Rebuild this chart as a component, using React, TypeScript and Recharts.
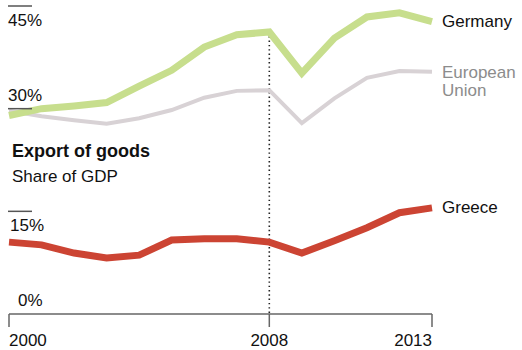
import React from 'react';
import { LineChart, Line, XAxis, YAxis, ReferenceLine } from 'recharts';

const years = [2000, 2001, 2002, 2003, 2004, 2005, 2006, 2007, 2008, 2009, 2010, 2011, 2012, 2013];
const germany = [29.0, 30.0, 30.4, 30.9, 33.3, 35.6, 39.0, 40.8, 41.2, 35.2, 40.3, 43.4, 44.0, 42.7];
const eu = [29.7, 28.9, 28.3, 27.8, 28.6, 29.8, 31.6, 32.6, 32.7, 27.9, 31.5, 34.5, 35.5, 35.4];
const greece = [10.5, 10.1, 8.9, 8.2, 8.6, 10.8, 11.0, 11.0, 10.5, 8.9, 10.7, 12.6, 14.8, 15.5];

const yTicks = [0, 15, 30, 45];
const yTickLabels = ['0%', '15%', '30%', '45%'];
const xTicks = [2000, 2008, 2013];
const markerYear = 2008;

const data = years.map((y, i) => ({ year: y, germany: germany[i], eu: eu[i], greece: greece[i] }));

const FONT = '"Liberation Sans", Arial, Helvetica, sans-serif';

const YTick = (props: any) => {
  const { y, payload } = props;
  const v = payload.value;
  const idx = yTicks.indexOf(v);
  const label = yTickLabels[idx];
  const above = v === 0 || v === 30;
  const textX = v === 0 ? 18 : v === 15 ? 10 : 8;
  return (
    <g>
      {v !== 0 && <line x1={8} x2={32} y1={y} y2={y} stroke="#555" strokeWidth={1.5} />}
      <text x={textX} y={above ? y - 8 : y + 20} fontSize={17} fill="#111" fontFamily={FONT} textAnchor="start">
        {label}
      </text>
    </g>
  );
};

const XTick = (props: any) => {
  const { x, payload, index } = props;
  const axisY = 314;
  const anchor = index === 0 ? 'start' : index === xTicks.length - 1 ? 'end' : 'middle';
  return (
    <g>
      <line x1={x} x2={x} y1={axisY} y2={axisY + 13} stroke="#666" strokeWidth={1.5} />
      <text x={x} y={346} fontSize={17} fill="#111" fontFamily={FONT} textAnchor={anchor}>
        {payload.value}
      </text>
    </g>
  );
};

const endLabel = (lines: string[], color: string, dyFirst: number) => (props: any) => {
  const { x, y, index } = props;
  if (index !== years.length - 1) return null;
  return (
    <text x={x + 10} y={y + dyFirst} fontSize={17} fill={color} fontFamily={FONT}>
      {lines.map((l, i) => (
        <tspan key={i} x={x + 10} dy={i === 0 ? 0 : 18}>
          {l}
        </tspan>
      ))}
    </text>
  );
};

export default function App() {
  const germanyAt = germany[years.indexOf(markerYear)];
  return (
    <div style={{ position: 'absolute', left: 0, top: 0, width: 522, height: 350, background: '#fff' }}>
      <LineChart width={522} height={350} data={data} margin={{ top: 6, right: 90, bottom: 0, left: 0 }}>
        <XAxis
          dataKey="year"
          type="number"
          domain={[2000, 2013]}
          ticks={xTicks}
          axisLine={{ stroke: '#666', strokeWidth: 1.5 }}
          tickLine={false}
          tick={<XTick />}
          height={36}
          interval={0}
        />
        <YAxis
          type="number"
          domain={[0, 45]}
          ticks={yTicks}
          width={9}
          axisLine={false}
          tickLine={false}
          tick={<YTick />}
          interval={0}
        />
        <ReferenceLine
          segment={[{ x: markerYear, y: germanyAt }, { x: markerYear, y: 0 }]}
          stroke="#222"
          strokeWidth={1.6}
          strokeDasharray="1.4 2.9"
        />
        <Line
          dataKey="eu"
          stroke="#d8d2d5"
          strokeWidth={4}
          dot={false}
          isAnimationActive={false}
          label={endLabel(['European', 'Union'], '#8c8c8c', 6)}
        />
        <Line
          dataKey="germany"
          stroke="#c7de8d"
          strokeWidth={7}
          dot={false}
          isAnimationActive={false}
          label={endLabel(['Germany'], '#111', 5)}
        />
        <Line
          dataKey="greece"
          stroke="#cc4433"
          strokeWidth={7}
          dot={false}
          isAnimationActive={false}
          label={endLabel(['Greece'], '#111', 5)}
        />
      </LineChart>
      <div
        style={{
          position: 'absolute',
          left: 12,
          top: 142,
          fontFamily: FONT,
          color: '#111',
          lineHeight: 1,
        }}
      >
        <div style={{ fontWeight: 'bold', fontSize: 18 }}>Export of goods</div>
        <div style={{ fontSize: 17, marginTop: 8 }}>Share of GDP</div>
      </div>
    </div>
  );
}
